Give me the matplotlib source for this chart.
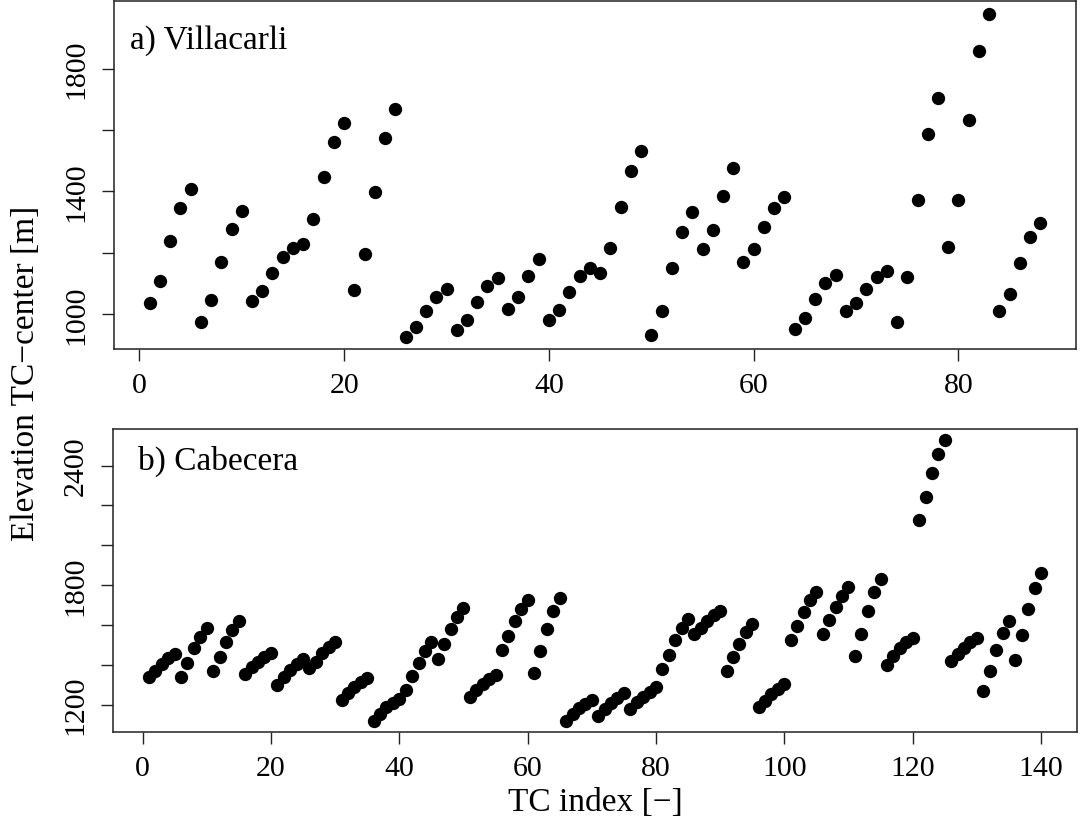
import matplotlib
matplotlib.use("Agg")
import matplotlib.pyplot as plt
import numpy as np

plt.rcParams['font.family'] = ['Liberation Serif', 'DejaVu Serif']

# ---- data: a) Villacarli ----
villa_elev = [1036, 1109, 1237, 1347, 1407, 974, 1046, 1171, 1276, 1336,
              1041, 1076, 1135, 1186, 1214, 1229, 1308, 1445, 1560, 1623,
              1078, 1195, 1399, 1572, 1668, 926, 957, 1011, 1056, 1080,
              947, 980, 1040, 1091, 1118, 1016, 1054, 1123, 1178, 980,
              1014, 1073, 1123, 1151, 1135, 1214, 1350, 1466, 1530, 931,
              1011, 1149, 1267, 1331, 1211, 1274, 1383, 1475, 1169, 1211,
              1283, 1345, 1380, 952, 987, 1048, 1100, 1126, 1011, 1037,
              1082, 1120, 1140, 975, 1121, 1373, 1586, 1704, 1218, 1370,
              1633, 1856, 1979, 1009, 1066, 1167, 1251, 1298]
villa_idx = list(range(1, len(villa_elev) + 1))

# ---- data: b) Cabecera ----
cabe_elev = [1338, 1369, 1404, 1434, 1455, 1338, 1409, 1483, 1541, 1585,
             1368, 1440, 1515, 1575, 1619, 1353, 1388, 1416, 1438, 1458,
             1299, 1338, 1374, 1404, 1429, 1383, 1416, 1460, 1488, 1513,
             1222, 1259, 1287, 1315, 1335, 1117, 1153, 1187, 1209, 1229,
             1274, 1343, 1411, 1468, 1513, 1429, 1503, 1581, 1640, 1687,
             1240, 1273, 1303, 1328, 1349, 1472, 1543, 1619, 1680, 1726,
             1360, 1470, 1582, 1670, 1737, 1118, 1153, 1183, 1203, 1224,
             1145, 1178, 1209, 1234, 1257, 1178, 1212, 1240, 1265, 1287,
             1378, 1450, 1525, 1586, 1630, 1555, 1587, 1622, 1650, 1669,
             1367, 1438, 1506, 1565, 1607, 1187, 1220, 1254, 1279, 1304,
             1526, 1594, 1667, 1723, 1764, 1555, 1625, 1692, 1747, 1789,
             1442, 1554, 1670, 1764, 1831, 1399, 1443, 1483, 1515, 1536,
             2129, 2244, 2363, 2460, 2529, 1421, 1455, 1483, 1513, 1535,
             1267, 1371, 1475, 1558, 1619, 1426, 1552, 1680, 1786, 1863]
cabe_idx = list(range(1, len(cabe_elev) + 1))

top_xticks = [0, 20, 40, 60, 80]
top_yticks = [1000, 1200, 1400, 1600, 1800]
top_ylabels = ['1000', '', '1400', '', '1800']
bot_xticks = [0, 20, 40, 60, 80, 100, 120, 140]
bot_yticks = [1200, 1400, 1600, 1800, 2000, 2200, 2400]
bot_ylabels = ['1200', '', '', '1800', '', '', '2400']

W, H = 1080, 837
fig = plt.figure(figsize=(W / 100, H / 100), dpi=100)

def px_axes(l, t, r, b):
    return fig.add_axes([l / W, 1 - b / H, (r - l) / W, (b - t) / H])

ax1 = px_axes(114, 2, 1076, 350)
ax2 = px_axes(113.3, 430, 1076.7, 733.3)

FS = 21.5
LFS = 24
for ax in (ax1, ax2):
    for s in ax.spines.values():
        s.set_linewidth(1.1)
        s.set_color('#222222')
    ax.tick_params(direction='out', length=8.6, width=1.0, labelsize=FS, color='#222222')
    ax.tick_params(axis='x', pad=8)
    ax.tick_params(axis='y', pad=9)

ax1.scatter(villa_idx, villa_elev, s=92, color='black', linewidths=0, zorder=3)
ax1.set_xlim(-2.48, 91.48)
ax1.set_ylim(886, 2020)
ax1.set_xticks(top_xticks)
ax1.set_yticks(top_yticks)
ax1.set_yticklabels(top_ylabels, rotation=90, va='center')
ax1.text(130 / W, 1 - 49 / H, 'a) Villacarli', transform=fig.transFigure,
         fontsize=LFS, ha='left', va='baseline')

ax2.scatter(cabe_idx, cabe_elev, s=92, color='black', linewidths=0, zorder=3)
ax2.set_xlim(-4.56, 145.56)
ax2.set_ylim(1061, 2584)
ax2.set_xticks(bot_xticks)
ax2.set_yticks(bot_yticks)
ax2.set_yticklabels(bot_ylabels, rotation=90, va='center')
ax2.text(138 / W, 1 - 470 / H, 'b) Cabecera', transform=fig.transFigure,
         fontsize=LFS, ha='left', va='baseline')

fig.text(26 / W, 1 - 373 / H, 'Elevation TC\u2212center [m]', rotation=90,
         ha='center', va='center', fontsize=LFS)
fig.text(595 / W, 1 - 803 / H, 'TC index [\u2212]', ha='center', va='center', fontsize=LFS)

fig.savefig('out.png', dpi=100)
